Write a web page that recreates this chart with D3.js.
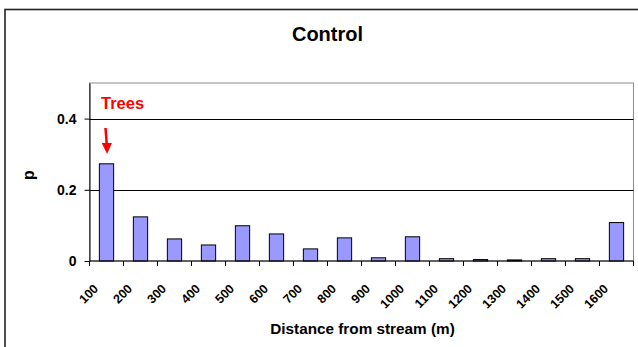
<!DOCTYPE html>
<html>
<head>
<meta charset="utf-8">
<script src="https://cdn.jsdelivr.net/npm/d3@7"></script>
<style>
  html, body { margin: 0; padding: 0; background: #fff; }
  svg { display: block; font-family: "Liberation Sans", Arial, sans-serif; font-weight: bold; }
</style>
</head>
<body>
<svg id="chart" width="638" height="347"></svg>
<script>
// Distance bins (m) and proportion of records in each bin
const categories = ["100","200","300","400","500","600","700","800","900","1000","1100","1200","1300","1400","1500","1600"];
const proportions = [0.273, 0.124, 0.062, 0.045, 0.099, 0.076, 0.034, 0.065, 0.009, 0.068, 0.0065, 0.004, 0.003, 0.0065, 0.0065, 0.108];
const yTickValues = [0, 0.2, 0.4];
const yDomain = [0, 0.5];

const svg = d3.select("#chart");
const plot = { left: 89.5, right: 633.5, top: 83, bottom: 261 };

// Outer chart frame (right and bottom edges fall outside the view)
svg.append("rect")
  .attr("x", 5).attr("y", 9.5)
  .attr("width", 700).attr("height", 400)
  .attr("fill", "none").attr("stroke", "#222").attr("stroke-width", 1.6);

const x = d3.scaleBand()
  .domain(categories)
  .range([plot.left, plot.right])
  .paddingInner(0.58)
  .paddingOuter(0.29);

const y = d3.scaleLinear().domain(yDomain).range([plot.bottom, plot.top]);

// Plot area border
svg.append("rect")
  .attr("x", plot.left).attr("y", plot.top)
  .attr("width", plot.right - plot.left).attr("height", plot.bottom - plot.top)
  .attr("fill", "none").attr("stroke", "#8c8c8c").attr("stroke-width", 1);

// Horizontal gridlines
svg.append("g")
  .selectAll("line")
  .data(yTickValues.filter(v => v > 0))
  .join("line")
  .attr("x1", plot.left).attr("x2", plot.right)
  .attr("y1", d => Math.round(y(d)) + 0.5).attr("y2", d => Math.round(y(d)) + 0.5)
  .attr("stroke", "#000").attr("stroke-width", 1);

// Bars
svg.append("g")
  .selectAll("rect")
  .data(categories.map((c, i) => ({ c, v: proportions[i] })))
  .join("rect")
  .attr("x", d => x(d.c))
  .attr("y", d => y(d.v))
  .attr("width", x.bandwidth())
  .attr("height", d => y(0) - y(d.v))
  .attr("fill", "#9999ff")
  .attr("stroke", "#000")
  .attr("stroke-width", 1);

// Y axis
const yAxis = d3.axisLeft(y).tickValues(yTickValues).tickSize(5).tickSizeOuter(0).tickPadding(8)
  .tickFormat(d => d === 0 ? "0" : d3.format(".1f")(d));
const gy = svg.append("g").attr("transform", `translate(${plot.left},0)`).call(yAxis);
gy.select(".domain").attr("stroke", "#000");
gy.selectAll(".tick line").attr("stroke", "#000");
gy.selectAll(".tick text").attr("font-size", 14).attr("font-weight", "bold")
  .attr("font-family", "Liberation Sans, Arial, sans-serif").attr("fill", "#000");

// X axis line and tick marks at bin boundaries
svg.append("line")
  .attr("x1", plot.left).attr("x2", plot.right)
  .attr("y1", y(0)).attr("y2", y(0))
  .attr("stroke", "#000").attr("stroke-width", 1);

const boundaries = categories.map(c => x(c) + x.bandwidth() / 2 - x.step() / 2)
  .concat([x(categories[categories.length - 1]) + x.bandwidth() / 2 + x.step() / 2]);
svg.append("g")
  .selectAll("line")
  .data(boundaries)
  .join("line")
  .attr("x1", d => d).attr("x2", d => d)
  .attr("y1", y(0)).attr("y2", y(0) + 5)
  .attr("stroke", "#000").attr("stroke-width", 1);

// Rotated category labels
svg.append("g")
  .selectAll("text")
  .data(categories)
  .join("text")
  .attr("transform", d => `translate(${x(d) + x.bandwidth() / 2 - 7.5},289.5) rotate(-45)`)
  .attr("text-anchor", "end")
  .attr("font-size", 12.5)
  .attr("fill", "#000")
  .text(d => d);

// Titles
svg.append("text")
  .attr("x", 327.5).attr("y", 40.5)
  .attr("text-anchor", "middle")
  .attr("font-size", 20)
  .text("Control");

svg.append("text")
  .attr("x", 362.5).attr("y", 334)
  .attr("text-anchor", "middle")
  .attr("font-size", 15.3)
  .text("Distance from stream (m)");

svg.append("text")
  .attr("transform", `translate(33.5,175) rotate(-90)`)
  .attr("text-anchor", "middle")
  .attr("font-size", 16)
  .text("p");

// Annotation: "Trees" with arrow pointing at the first bin
const firstCenter = x(categories[0]) + x.bandwidth() / 2;
svg.append("text")
  .attr("x", 101).attr("y", 109)
  .attr("font-size", 16.5)
  .attr("fill", "#ff0000")
  .text("Trees");

svg.append("line")
  .attr("x1", firstCenter - 1).attr("y1", 128)
  .attr("x2", firstCenter + 0.3).attr("y2", 145)
  .attr("stroke", "#ff0000").attr("stroke-width", 2.5);
svg.append("path")
  .attr("d", `M${firstCenter - 4.8},${143} L${firstCenter + 5.4},${143} L${firstCenter + 0.6},${154} Z`)
  .attr("fill", "#ff0000");
</script>
</body>
</html>
